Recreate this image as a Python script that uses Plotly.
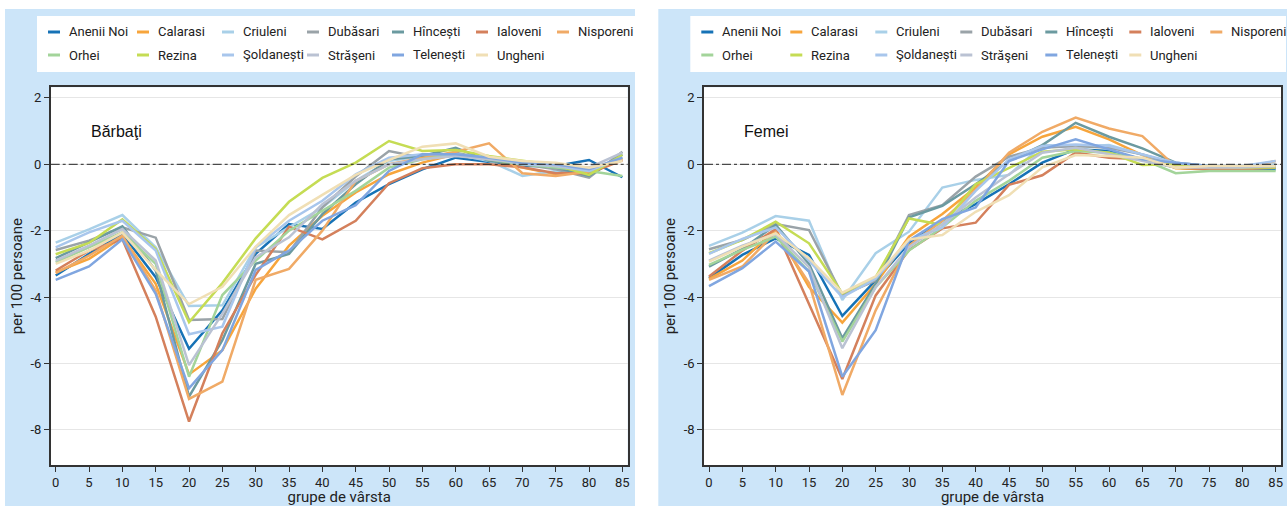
import plotly.graph_objects as go

W, H = 1287, 506

ages = list(range(0, 90, 5))
x_tickvals = ages
y_tickvals = [2, 0, -2, -4, -6, -8]
y_ticktext = ["2", "0", "-2", "-4", "-6", "-8"]

regions = ["Anenii Noi", "Calarasi", "Criuleni", "Dubăsari", "Hîncești", "Ialoveni", "Nisporeni",
           "Orhei", "Rezina", "Şoldanești", "Străşeni", "Telenești", "Ungheni"]
colors = ["#1672b6", "#f7a53c", "#a9d0e8", "#9aa3a8", "#6b9aa0", "#d4805c", "#f0aa66",
          "#a3d49a", "#c5dc54", "#a8c6ec", "#bac2d3", "#80a6e0", "#f0dfb5"]

# Bărbaţi (men)
m_anenii_noi = [-3.35, -2.7, -2.1, -3.4, -5.56, -4.4, -2.7, -1.8, -1.95, -1.15, -0.6, -0.15, 0.2, 0.08, -0.05, -0.05, 0.13, -0.39]
m_calarasi = [-3.25, -2.85, -2.2, -3.6, -6.33, -5.6, -3.75, -2.45, -1.55, -0.85, -0.3, 0.05, 0.3, 0.15, -0.1, -0.3, -0.15, 0.15]
m_criuleni = [-2.36, -1.96, -1.53, -2.5, -4.27, -4.25, -2.5, -1.9, -1.3, -0.5, 0.1, 0.25, 0.3, 0.1, -0.35, -0.2, -0.2, 0.2]
m_dubasari = [-2.58, -2.3, -1.9, -2.21, -4.69, -4.66, -2.6, -2.65, -1.3, -0.37, 0.4, 0.2, 0.35, 0.15, 0.0, -0.15, -0.4, 0.38]
m_hincesti = [-2.83, -2.35, -1.87, -3.2, -7.0, -5.3, -3.0, -2.7, -1.5, -0.6, 0.15, 0.25, 0.5, 0.1, 0.0, -0.1, -0.35, 0.3]
m_ialoveni = [-3.2, -2.6, -2.26, -4.59, -7.75, -5.09, -3.33, -1.88, -2.26, -1.7, -0.57, -0.12, 0.0, 0.0, -0.09, -0.27, -0.27, 0.12]
m_nisporeni = [-3.28, -2.75, -2.15, -3.8, -7.07, -6.55, -3.48, -3.15, -2.0, -0.5, 0.0, 0.2, 0.38, 0.63, -0.27, -0.35, -0.22, 0.18]
m_orhei = [-2.95, -2.5, -2.05, -3.0, -6.4, -3.94, -2.9, -2.0, -1.4, -0.8, -0.1, 0.15, 0.3, 0.15, 0.0, -0.1, -0.2, -0.35]
m_rezina = [-2.71, -2.37, -1.66, -2.55, -4.76, -3.58, -2.23, -1.13, -0.41, 0.05, 0.70, 0.40, 0.43, 0.25, 0.11, -0.02, -0.32, 0.28]
m_soldanesti = [-2.5, -2.05, -1.7, -2.6, -5.12, -4.89, -2.5, -1.7, -1.1, -0.3, 0.2, 0.3, 0.3, 0.2, 0.0, -0.05, -0.2, 0.2]
m_straseni = [-2.9, -2.45, -1.95, -2.9, -6.05, -4.5, -2.8, -2.2, -1.2, -0.5, 0.0, 0.15, 0.25, 0.15, 0.05, -0.05, -0.1, 0.35]
m_telenesti = [-3.48, -3.08, -2.26, -3.9, -6.75, -5.6, -3.18, -2.6, -1.7, -1.23, -0.2, 0.3, 0.3, 0.2, 0.05, 0.0, -0.15, 0.2]
m_ungheni = [-3.0, -2.6, -2.06, -3.18, -4.21, -3.69, -2.48, -1.53, -0.92, -0.32, 0.13, 0.53, 0.63, 0.23, 0.1, 0.05, -0.1, 0.1]

# Femei (women)
f_anenii_noi = [-3.43, -2.73, -2.23, -2.73, -4.57, -3.5, -2.38, -1.7, -1.2, -0.6, 0.05, 0.45, 0.4, 0.15, -0.1, -0.15, -0.15, -0.15]
f_calarasi = [-3.45, -2.9, -1.96, -3.7, -4.77, -3.6, -2.18, -1.5, -0.7, 0.3, 0.83, 1.13, 0.75, 0.28, -0.12, -0.15, -0.15, 0.0]
f_criuleni = [-2.46, -2.06, -1.56, -1.7, -4.09, -2.68, -2.03, -0.70, -0.47, -0.32, 0.58, 0.53, 0.58, 0.3, 0.0, -0.1, -0.1, 0.0]
f_dubasari = [-2.56, -2.28, -1.8, -1.98, -3.94, -3.5, -1.53, -1.23, -0.37, 0.23, 0.5, 0.55, 0.5, 0.3, 0.0, -0.1, -0.1, -0.05]
f_hincesti = [-3.08, -2.55, -1.83, -3.0, -5.24, -3.6, -1.6, -1.25, -0.6, 0.1, 0.58, 1.25, 0.83, 0.48, 0.05, -0.05, -0.1, -0.1]
f_ialoveni = [-3.38, -2.6, -1.95, -4.2, -6.47, -3.95, -2.58, -1.93, -1.76, -0.62, -0.33, 0.35, 0.2, 0.15, -0.1, -0.15, -0.15, -0.1]
f_nisporeni = [-3.48, -3.08, -2.05, -3.58, -6.95, -4.4, -2.45, -1.7, -0.77, 0.35, 0.98, 1.41, 1.08, 0.85, -0.07, -0.1, -0.1, 0.1]
f_orhei = [-3.03, -2.58, -2.18, -3.23, -5.34, -3.7, -2.6, -1.9, -1.1, -0.5, 0.2, 0.4, 0.35, 0.15, -0.27, -0.2, -0.2, -0.2]
f_rezina = [-2.68, -2.28, -1.73, -2.38, -3.89, -3.4, -1.63, -1.83, -0.6, -0.1, 0.38, 0.45, 0.35, -0.02, 0.0, -0.05, -0.1, -0.1]
f_soldanesti = [-2.7, -2.25, -1.9, -2.9, -4.0, -3.45, -2.3, -1.9, -0.8, 0.15, 0.55, 0.6, 0.55, 0.3, 0.05, -0.05, -0.05, 0.1]
f_straseni = [-2.9, -2.45, -2.1, -3.1, -5.54, -3.7, -2.5, -1.8, -1.0, -0.3, 0.35, 0.5, 0.3, 0.1, -0.1, -0.1, -0.1, -0.05]
f_telenesti = [-3.67, -3.13, -2.33, -3.23, -6.4, -5.0, -2.3, -1.65, -1.3, 0.1, 0.45, 0.75, 0.45, 0.15, 0.05, -0.05, -0.05, -0.05]
f_ungheni = [-2.93, -2.48, -2.08, -2.83, -3.87, -3.38, -2.26, -2.13, -1.43, -0.93, -0.09, 0.28, 0.25, 0.2, -0.1, -0.05, -0.05, -0.05]

men = [m_anenii_noi, m_calarasi, m_criuleni, m_dubasari, m_hincesti, m_ialoveni, m_nisporeni,
       m_orhei, m_rezina, m_soldanesti, m_straseni, m_telenesti, m_ungheni]
women = [f_anenii_noi, f_calarasi, f_criuleni, f_dubasari, f_hincesti, f_ialoveni, f_nisporeni,
         f_orhei, f_rezina, f_soldanesti, f_straseni, f_telenesti, f_ungheni]

panel_labels = ["Bărbaţi", "Femei"]


def px(v):
    return v / W


def py(v):
    return 1 - v / H


BLUE = "#cce5f9"
AXC = "#333333"
FONT = "Roboto"

fig = go.Figure()

for data, xa, ya in [(men, "x", "y"), (women, "x2", "y2")]:
    for name, col, vals in zip(regions, colors, data):
        fig.add_trace(go.Scatter(x=ages, y=vals, mode="lines", name=name,
                                 line=dict(color=col, width=2.5),
                                 xaxis=xa, yaxis=ya, showlegend=False,
                                 legendgroup=name))

offsets = [0.0, 653.3]
plot_l, plot_r, plot_t, plot_b = 50.7, 627.7, 87.3, 465.0

xaxis_common = dict(range=[-0.75, 85.8], tickmode="array", tickvals=x_tickvals,
                    ticks="outside", ticklen=5, tickwidth=1.2, tickcolor=AXC,
                    showline=True, linecolor=AXC, linewidth=1.5, mirror=True,
                    showgrid=False, zeroline=False,
                    tickfont=dict(family=FONT, size=13, color="#222"),
                    title=dict(text="grupe de vârsta", font=dict(family=FONT, size=15, color="#222"), standoff=2))
yaxis_common = dict(range=[-9.06, 2.32], tickmode="array", tickvals=y_tickvals, ticktext=y_ticktext,
                    ticks="outside", ticklen=5, tickwidth=1.2, tickcolor=AXC,
                    showline=True, linecolor=AXC, linewidth=1.5, mirror=True,
                    showgrid=True, gridcolor="#e6e6e6", gridwidth=1.3, zeroline=False,
                    tickfont=dict(family=FONT, size=13, color="#222"),
                    title=dict(text="per 100 persoane", font=dict(family=FONT, size=15, color="#222"), standoff=4))

ydom = [py(plot_b), py(plot_t)]
fig.update_layout(
    xaxis=dict(domain=[px(plot_l), px(plot_r)], anchor="y", **xaxis_common),
    yaxis=dict(domain=ydom, anchor="x", **yaxis_common),
    xaxis2=dict(domain=[px(plot_l + offsets[1]), px(plot_r + offsets[1])], anchor="y2", **xaxis_common),
    yaxis2=dict(domain=ydom, anchor="x2", **yaxis_common),
)

shapes = []
annotations = []
col_x = [48, 137, 222, 307, 392, 476, 557]
row_y = [32, 55]
TEXT_GAP = 19
for k, off in enumerate(offsets):
    # panel background
    shapes.append(dict(type="rect", xref="paper", yref="paper", layer="below",
                       x0=px(5 + off), x1=min(px(635 + off), 1.0), y0=0, y1=py(9),
                       fillcolor=BLUE, line=dict(width=0)))
    xr = "x" if k == 0 else "x2"
    yr = "y" if k == 0 else "y2"
    # plot area background
    shapes.append(dict(type="rect", xref=xr + " domain", yref=yr + " domain", layer="below",
                       x0=0, x1=1, y0=0, y1=1, fillcolor="white", line=dict(width=0)))
    # zero reference line
    shapes.append(dict(type="line", xref=xr + " domain", yref=yr, x0=0, x1=1, y0=0, y1=0,
                       line=dict(color="#222", width=1, dash="dashdot"), layer="above"))
    # legend box
    shapes.append(dict(type="rect", xref="paper", yref="paper", layer="below",
                       x0=px(37 + off), x1=min(px(635 + off), px(1286)), y0=py(72), y1=py(16),
                       fillcolor="white", line=dict(width=0)))
    for i, (name, col) in enumerate(zip(regions, colors)):
        c, r = i % 7, i // 7
        sx = col_x[c] + off
        sy = row_y[r]
        shapes.append(dict(type="line", xref="paper", yref="paper",
                           x0=px(sx), x1=px(sx + 12), y0=py(sy), y1=py(sy),
                           line=dict(color=col, width=3)))
        annotations.append(dict(text=name, xref="paper", yref="paper", x=px(sx + TEXT_GAP), y=py(sy),
                                xanchor="left", yanchor="middle", showarrow=False,
                                font=dict(family=FONT, size=13, color="#222")))
    annotations.append(dict(text=panel_labels[k], xref="paper", yref="paper",
                            x=px(89 + off), y=py(131.7), xanchor="left", yanchor="middle",
                            showarrow=False, font=dict(family="Liberation Sans", size=16, color="#111")))

fig.update_layout(
    width=W, height=H,
    margin=dict(l=0, r=0, t=0, b=0, autoexpand=False),
    paper_bgcolor="white", plot_bgcolor="white",
    shapes=shapes, annotations=annotations,
    showlegend=False,
)

fig.write_html("out.html", config={"displayModeBar": False},
               post_script="document.body.style.margin='0';document.body.style.overflow='hidden';")
